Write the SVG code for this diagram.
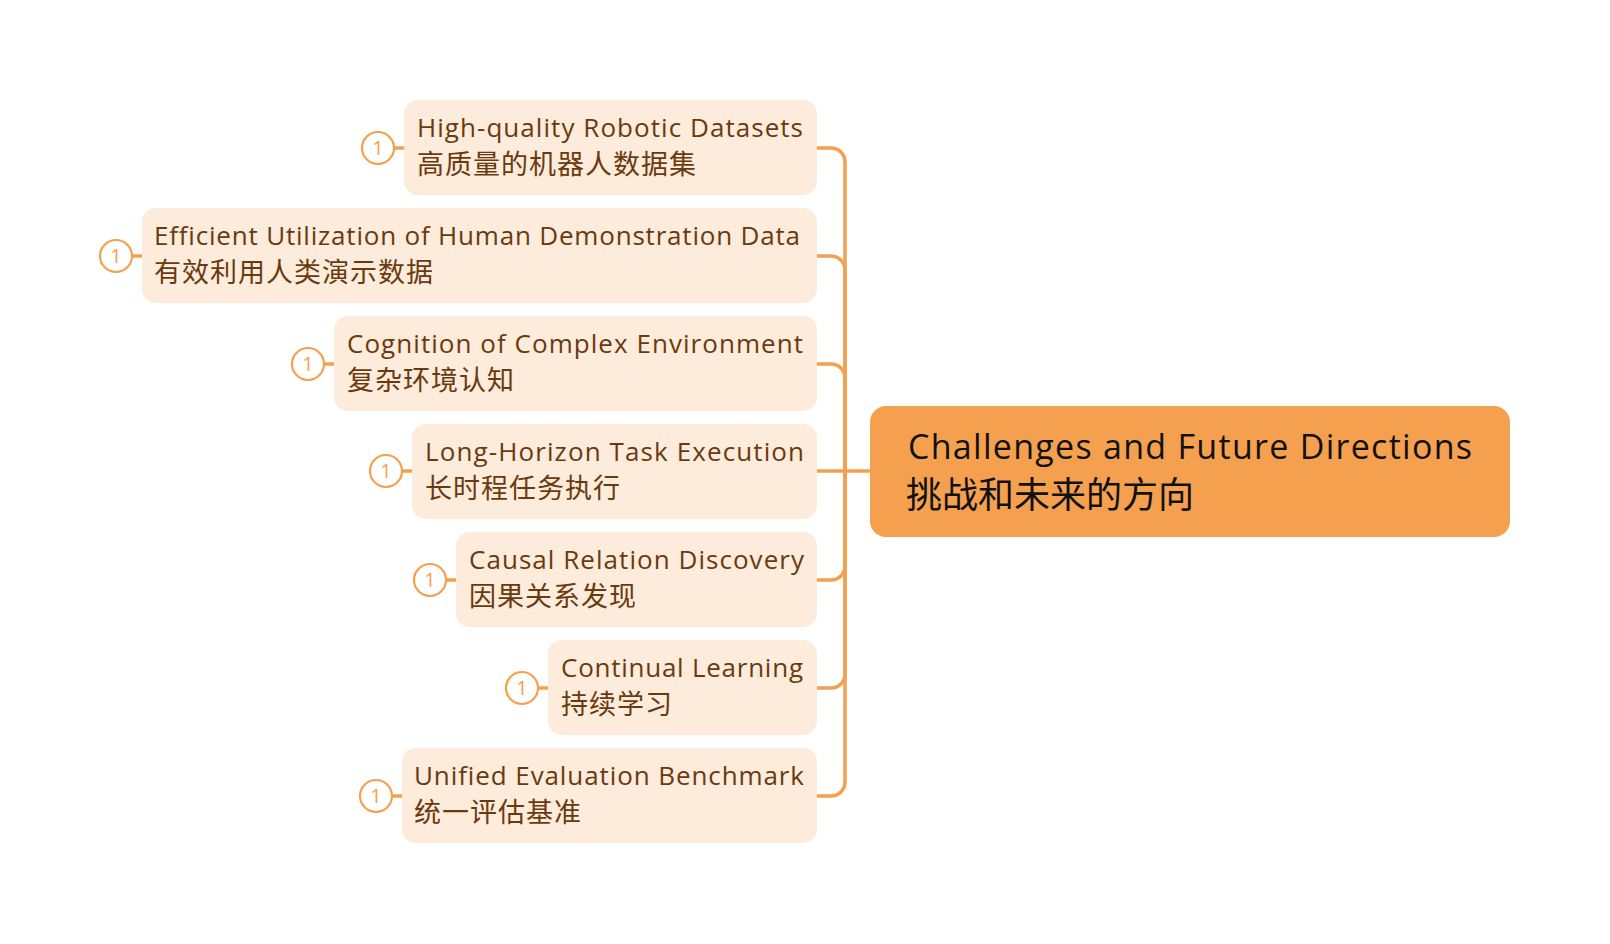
<svg xmlns="http://www.w3.org/2000/svg" width="1610" height="944" viewBox="0 0 1610 944">
<style>
text{font-variant-ligatures:none;}
.sub{fill:#FDEBDB;}
.en{font-family:"Open Sans",Lato,"Noto Sans CJK SC",sans-serif;font-size:26px;fill:#6A3A0F;}
.zh{font-family:"Noto Sans CJK SC",sans-serif;font-size:27px;fill:#6A3A0F;}
.mark{fill:#FFFFFF;stroke:#F5A04F;stroke-width:2.2;}
.num{font-family:"Open Sans","Liberation Sans",sans-serif;font-size:20px;fill:#F5A04F;text-anchor:middle;}
.tick{stroke:#F5A04F;stroke-width:3.5;}
.conn{fill:none;stroke:#F5A04F;stroke-width:3.5;}
.title-en{font-family:"Open Sans",Lato,sans-serif;font-size:34px;fill:#111111;}
.title-zh{font-family:"Noto Sans CJK SC",sans-serif;font-size:36px;fill:#111111;}
</style>
<rect width="1610" height="944" fill="#FFFFFF"/>
<g id="connectors">
<path class="conn" d="M817,148 H831 A14,14 0 0 1 845,162 V471"/>
<path class="conn" d="M817,256 H831 A14,14 0 0 1 845,270 V471"/>
<path class="conn" d="M817,364 H831 A14,14 0 0 1 845,378 V471"/>
<path class="conn" d="M817,471 H870"/>
<path class="conn" d="M817,580 H831 A14,14 0 0 0 845,566 V471"/>
<path class="conn" d="M817,688 H831 A14,14 0 0 0 845,674 V471"/>
<path class="conn" d="M817,796 H831 A14,14 0 0 0 845,782 V471"/>
</g>
<g id="center">
<rect x="870" y="406" width="640" height="131" rx="16" fill="#F5A04F"/>
<text class="title-en" x="908" y="459" textLength="564" lengthAdjust="spacing">Challenges and Future Directions</text>
<text class="title-zh" x="906" y="508">挑战和未来的方向</text>
</g>
<g id="node1">
<rect class="sub" x="404" y="100" width="413" height="95" rx="14"/>
<line class="tick" x1="394" y1="148" x2="404" y2="148"/>
<circle class="mark" cx="378" cy="148" r="16"/>
<text class="num" x="378" y="155">1</text>
<text class="en" x="417" y="137" textLength="386" lengthAdjust="spacing">High-quality Robotic Datasets</text>
<text class="zh" x="417" y="174" textLength="279" lengthAdjust="spacing">高质量的机器人数据集</text>
</g>
<g id="node2">
<rect class="sub" x="142" y="208" width="675" height="95" rx="14"/>
<line class="tick" x1="132" y1="256" x2="142" y2="256"/>
<circle class="mark" cx="116" cy="256" r="16"/>
<text class="num" x="116" y="263">1</text>
<text class="en" x="154" y="245" textLength="646" lengthAdjust="spacing">Efficient Utilization of Human Demonstration Data</text>
<text class="zh" x="154" y="282" textLength="279" lengthAdjust="spacing">有效利用人类演示数据</text>
</g>
<g id="node3">
<rect class="sub" x="334" y="316" width="483" height="95" rx="14"/>
<line class="tick" x1="324" y1="364" x2="334" y2="364"/>
<circle class="mark" cx="308" cy="364" r="16"/>
<text class="num" x="308" y="371">1</text>
<text class="en" x="347" y="353" textLength="456" lengthAdjust="spacing">Cognition of Complex Environment</text>
<text class="zh" x="347" y="390" textLength="167" lengthAdjust="spacing">复杂环境认知</text>
</g>
<g id="node4">
<rect class="sub" x="412" y="424" width="405" height="95" rx="14"/>
<line class="tick" x1="402" y1="471" x2="412" y2="471"/>
<circle class="mark" cx="386" cy="471" r="16"/>
<text class="num" x="386" y="478">1</text>
<text class="en" x="425" y="461" textLength="379" lengthAdjust="spacing">Long-Horizon Task Execution</text>
<text class="zh" x="425" y="498" textLength="195" lengthAdjust="spacing">长时程任务执行</text>
</g>
<g id="node5">
<rect class="sub" x="456" y="532" width="361" height="95" rx="14"/>
<line class="tick" x1="446" y1="580" x2="456" y2="580"/>
<circle class="mark" cx="430" cy="580" r="16"/>
<text class="num" x="430" y="587">1</text>
<text class="en" x="469" y="569" textLength="335" lengthAdjust="spacing">Causal Relation Discovery</text>
<text class="zh" x="469" y="606" textLength="167" lengthAdjust="spacing">因果关系发现</text>
</g>
<g id="node6">
<rect class="sub" x="548" y="640" width="269" height="95" rx="14"/>
<line class="tick" x1="538" y1="688" x2="548" y2="688"/>
<circle class="mark" cx="522" cy="688" r="16"/>
<text class="num" x="522" y="695">1</text>
<text class="en" x="561" y="677" textLength="242" lengthAdjust="spacing">Continual Learning</text>
<text class="zh" x="561" y="714" textLength="111" lengthAdjust="spacing">持续学习</text>
</g>
<g id="node7">
<rect class="sub" x="402" y="748" width="415" height="95" rx="14"/>
<line class="tick" x1="392" y1="796" x2="402" y2="796"/>
<circle class="mark" cx="376" cy="796" r="16"/>
<text class="num" x="376" y="803">1</text>
<text class="en" x="414" y="785" textLength="390" lengthAdjust="spacing">Unified Evaluation Benchmark</text>
<text class="zh" x="414" y="822" textLength="167" lengthAdjust="spacing">统一评估基准</text>
</g>
</svg>
